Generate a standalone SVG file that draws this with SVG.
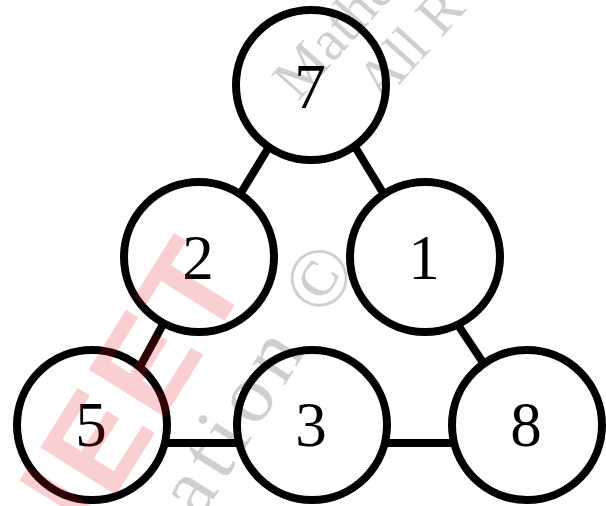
<svg xmlns="http://www.w3.org/2000/svg" width="606" height="506" viewBox="0 0 606 506">
<style>
.edge{stroke:#000;stroke-width:8;fill:none}
.node circle{fill:#fff;stroke:#000;stroke-width:8}
.node text{font-family:"Liberation Serif","Times New Roman",serif;font-size:63px;text-anchor:middle;fill:#000}
.wm{font-family:"Liberation Serif","Times New Roman",serif;font-size:58px;fill:#000;fill-opacity:0.19}
.wmr{font-family:"Liberation Sans",Arial,sans-serif;font-weight:bold;font-size:130px;letter-spacing:5px;fill:rgb(225,15,30);fill-opacity:0.2}
</style>
<rect width="606" height="506" fill="#fff"/>
<g id="connectors">
<line class="edge" x1="275" y1="137" x2="233" y2="206"/>
<line class="edge" x1="349" y1="137" x2="391" y2="206"/>
<line class="edge" x1="168" y1="315" x2="135" y2="376"/>
<line class="edge" x1="450" y1="313" x2="490" y2="373"/>
<line class="edge" x1="150" y1="443" x2="255" y2="443"/>
<line class="edge" x1="370" y1="443" x2="470" y2="443"/>
</g>
<g id="node-7" class="node"><circle cx="311" cy="85" r="75"/><text x="310" y="108">7</text></g>
<g id="node-2" class="node"><circle cx="199" cy="257" r="75"/><text x="198" y="279">2</text></g>
<g id="node-1" class="node"><circle cx="425" cy="257" r="75"/><text x="424" y="279">1</text></g>
<g id="node-5" class="node"><circle cx="92" cy="425" r="75"/><text x="91" y="446">5</text></g>
<g id="node-3" class="node"><circle cx="312" cy="425" r="75"/><text x="311" y="446">3</text></g>
<g id="node-8" class="node"><circle cx="527" cy="425" r="75"/><text x="526" y="446">8</text></g>
<g id="watermark">
<text class="wm" transform="translate(298,102) rotate(-48)">Mathe</text>
<text class="wm" transform="translate(382,104) rotate(-48)">All R</text>
<text class="wm" style="font-size:84px;letter-spacing:8px" transform="translate(200,521) rotate(-58)">ation ©</text>
<text class="wmr" transform="translate(59,586) rotate(-58)">NEET</text>
</g>
</svg>
